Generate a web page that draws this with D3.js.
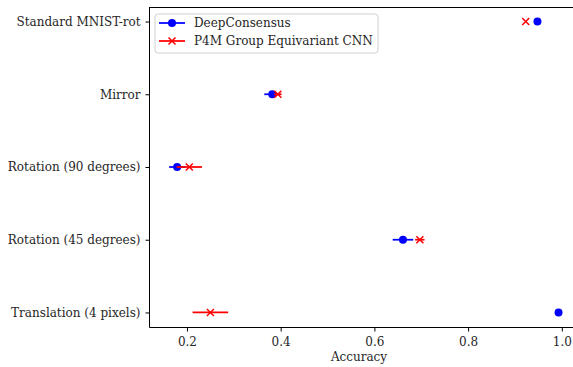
<!DOCTYPE html>
<html lang="en">
<head>
<meta charset="utf-8">
<title>Accuracy comparison</title>
<style>
  body { margin: 0; background: #fff; }
  svg { display: block; font-family: 'DejaVu Serif', serif; }
  text { fill: #262626; font-size: 12px; }
  .axis path, .axis line { stroke: #000; stroke-width: 1; }
</style>
</head>
<body>
<svg width="573" height="367"></svg>
<script src="https://d3js.org/d3.v7.min.js"></script>
<script>
// categories, top to bottom
var categories = ['Standard MNIST-rot', 'Mirror', 'Rotation (90 degrees)', 'Rotation (45 degrees)', 'Translation (4 pixels)'];
var seriesNames = ['DeepConsensus', 'P4M Group Equivariant CNN'];
var deepMean = [0.948, 0.382, 0.179, 0.661, 0.993];
var deepErr  = [0.000, 0.017, 0.017, 0.022, 0.000];
var p4mMean  = [0.923, 0.394, 0.205, 0.697, 0.250];
var p4mErr   = [0.000, 0.008, 0.027, 0.010, 0.038];
var xTicks = [0.2, 0.4, 0.6, 0.8, 1.0];

var svg = d3.select('svg');
var mLeft = 149, mTop = 7, mRight = 574, mBottom = 327;

var x = d3.scaleLinear().domain([0.119, 1.026]).range([mLeft, mRight]);
// matplotlib style margins: 0.2 units on each side of 0..4
var yIdx = d3.scaleLinear().domain([-0.2, 4.2]).range([mTop, mBottom]);
var yPos = c => yIdx(categories.indexOf(c));

var series = [
  { name: seriesNames[0], mean: deepMean, err: deepErr, color: '#0000ff', marker: 'circle' },
  { name: seriesNames[1], mean: p4mMean, err: p4mErr, color: '#ff0000', marker: 'x' }
];

function drawMarker(g, type, cx, cy, color) {
  if (type === 'circle') {
    g.append('circle').attr('cx', cx).attr('cy', cy).attr('r', 4).attr('fill', color);
  } else {
    var s = 3.5;
    g.append('path')
      .attr('d', `M${cx - s},${cy - s}L${cx + s},${cy + s}M${cx - s},${cy + s}L${cx + s},${cy - s}`)
      .attr('stroke', color).attr('stroke-width', 1.5).attr('fill', 'none');
  }
}

var plot = svg.append('g');
series.forEach(function (s) {
  var g = plot.append('g');
  categories.forEach(function (c, i) {
    var cy = yPos(c);
    if (s.err[i] > 0) {
      g.append('line')
        .attr('x1', x(s.mean[i] - s.err[i])).attr('x2', x(s.mean[i] + s.err[i]))
        .attr('y1', cy).attr('y2', cy)
        .attr('stroke', s.color).attr('stroke-width', 1.75);
    }
    drawMarker(g, s.marker, x(s.mean[i]), cy, s.color);
  });
});

// axes frame
var frame = svg.append('g').attr('class', 'axis');
frame.append('path')
  .attr('d', `M${mLeft + 0.5},${mTop}V${mBottom + 0.5}H${mRight}M${mLeft + 0.5},${mTop + 0.5}H${mRight}`)
  .attr('fill', 'none');

var xAxis = svg.append('g').attr('class', 'axis')
  .attr('transform', `translate(0,${mBottom + 0.5})`)
  .call(d3.axisBottom(x).tickValues(xTicks).tickFormat(d3.format('.1f')).tickSize(4).tickPadding(6));
xAxis.select('.domain').remove();

var yAxis = svg.append('g').attr('class', 'axis')
  .attr('transform', `translate(${mLeft + 0.5},0)`)
  .call(d3.axisLeft(d3.scaleOrdinal().domain(categories).range(categories.map(yPos))).tickSize(4).tickPadding(5));
yAxis.select('.domain').remove();
svg.selectAll('.axis text').style('font-size', '12px').attr('fill', '#262626')
  .style('font-family', "'DejaVu Serif', serif");

svg.append('text')
  .attr('x', (mLeft + 573) / 2 - 2).attr('y', 361)
  .attr('text-anchor', 'middle')
  .text('Accuracy');

// legend
var legend = svg.append('g').attr('transform', 'translate(155,14)');
legend.append('rect')
  .attr('width', 223).attr('height', 39).attr('rx', 3)
  .attr('fill', '#fff').attr('fill-opacity', 0.8)
  .attr('stroke', '#d0d0d0').attr('stroke-width', 1);
series.forEach(function (s, i) {
  var ly = 9 + i * 18;
  legend.append('line')
    .attr('x1', 4).attr('x2', 30).attr('y1', ly).attr('y2', ly)
    .attr('stroke', s.color).attr('stroke-width', 1.75);
  drawMarker(legend, s.marker, 17, ly, s.color);
  legend.append('text')
    .attr('x', 39).attr('y', ly).attr('dy', '0.35em')
    .text(s.name);
});
</script>
</body>
</html>
